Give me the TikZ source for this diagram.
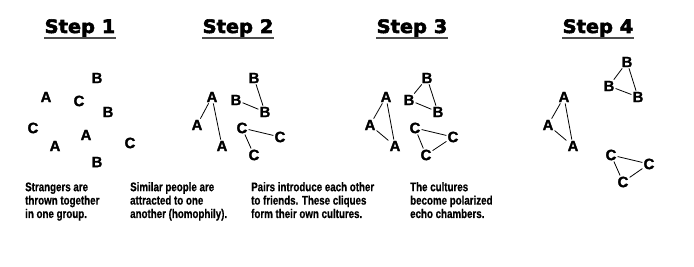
\documentclass[tikz,border=0pt]{standalone}
\usepackage{fontspec}
\setmainfont{Liberation Sans}
\newfontfamily\titlefont[FakeStretch=1.05,FakeBold=3]{DejaVu Sans Bold}
\newfontfamily\whofont[FakeBold=1.2]{Liberation Sans Bold}
\newfontfamily\notefont[FakeStretch=0.78,FakeBold=0.5]{Liberation Sans Bold}
\begin{document}
\begin{tikzpicture}[x=1pt,y=-1pt,
  ttl/.style={anchor=base,font=\titlefont\fontsize{18.5}{20}\selectfont,inner sep=0pt},
  who/.style={font=\whofont\fontsize{15}{15}\selectfont,inner sep=1pt},
  note/.style={anchor=base west,align=left,inner sep=0pt,font=\notefont\fontsize{12.5}{13.4}\selectfont},
  tie/.style={line width=.8pt}]
\useasboundingbox[fill=white](0,0)rectangle(694,267);
% titles
\node[ttl](t1)at(80,33){Step 1};
\node[ttl](t2)at(238,33){Step 2};
\node[ttl](t3)at(412,33){Step 3};
\node[ttl](t4)at(598,33){Step 4};
\foreach \t in {t1,t2,t3,t4}
  \draw[line width=2pt,black!70]([yshift=-5.5pt]\t.base west)--([yshift=-5.5pt]\t.base east);
% step 1
\node[who](p1b1)at(97,78){B};
\node[who](p1a1)at(46,97){A};
\node[who](p1c1)at(79,101){C};
\node[who](p1b2)at(108,112){B};
\node[who](p1c2)at(33,128){C};
\node[who](p1a2)at(86,135){A};
\node[who](p1a3)at(55,146){A};
\node[who](p1c3)at(130,143){C};
\node[who](p1b3)at(97,162){B};
% step 2
\node[who](p2b1)at(254,78){B};
\node[who](p2a1)at(212,97){A};
\node[who](p2b2)at(236,100){B};
\node[who](p2b3)at(265,112){B};
\node[who](p2a2)at(197,125){A};
\node[who](p2c1)at(242,128){C};
\node[who](p2c2)at(280,137){C};
\node[who](p2a3)at(222,146){A};
\node[who](p2c3)at(254,155){C};
\draw[tie](p2a1)--(p2a2) (p2a1)--(p2a3);
\draw[tie](p2b1)--(p2b3) (p2b2)--(p2b3);
\draw[tie](p2c1)--(p2c2) (p2c1)--(p2c3);
% step 3
\node[who](p3b1)at(427,78){B};
\node[who](p3a1)at(386,97){A};
\node[who](p3b2)at(409,100){B};
\node[who](p3b3)at(438,112){B};
\node[who](p3a2)at(370,125){A};
\node[who](p3c1)at(415,128){C};
\node[who](p3c2)at(453,137){C};
\node[who](p3a3)at(395,146){A};
\node[who](p3c3)at(426,155){C};
\draw[tie](p3a1)--(p3a2)--(p3a3)--(p3a1);
\draw[tie](p3b1)--(p3b2)--(p3b3)--(p3b1);
\draw[tie](p3c1)--(p3c2)--(p3c3)--(p3c1);
% step 4
\node[who](p4b1)at(627,62){B};
\node[who](p4b2)at(609,86){B};
\node[who](p4b3)at(638,97){B};
\node[who](p4a1)at(564,97){A};
\node[who](p4a2)at(548,125){A};
\node[who](p4a3)at(573,146){A};
\node[who](p4c1)at(611,155){C};
\node[who](p4c2)at(649,164){C};
\node[who](p4c3)at(623,182){C};
\draw[tie](p4a1)--(p4a2)--(p4a3)--(p4a1);
\draw[tie](p4b1)--(p4b2)--(p4b3)--(p4b1);
\draw[tie](p4c1)--(p4c2)--(p4c3)--(p4c1);
% captions
\node[note](n1)at(25,218){Strangers are\\thrown together\\in one group.};
\node[note](n2)at(130,218){Similar people are\\attracted to one\\another (homophily).};
\node[note](n3)at(251,218){Pairs introduce each other\\to friends. These cliques\\form their own cultures.};
\node[note](n4)at(410,218){The cultures\\become polarized\\echo chambers.};
\end{tikzpicture}
\end{document}
